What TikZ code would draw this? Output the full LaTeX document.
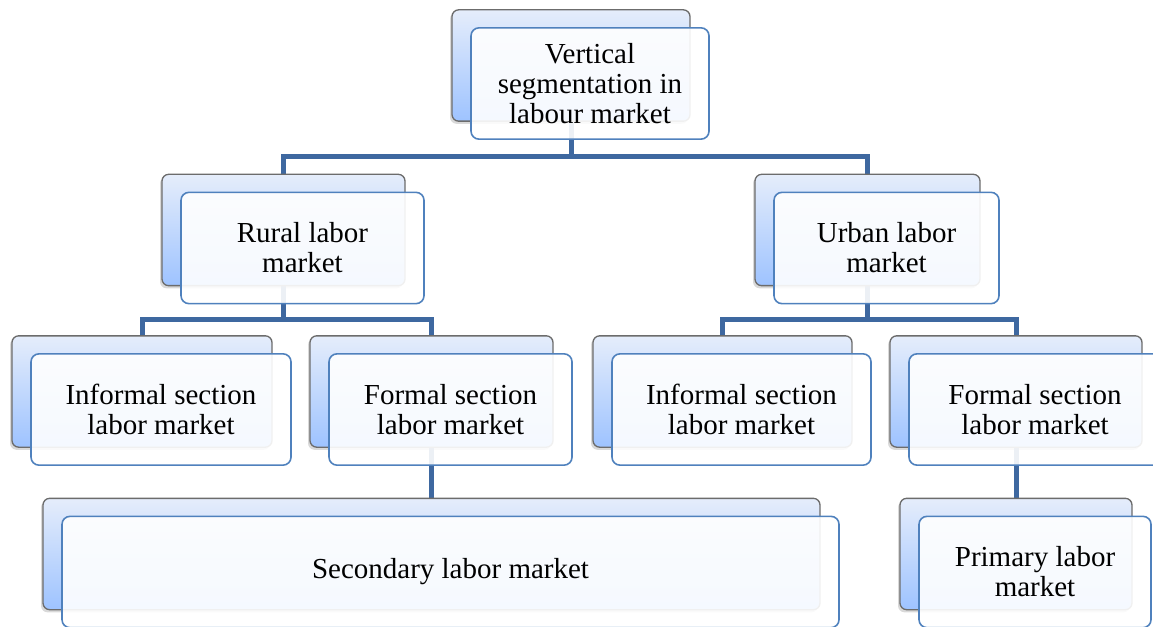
\documentclass[tikz,border=0pt]{standalone}
\usepackage{fontspec}
\setmainfont{Liberation Serif}
\usetikzlibrary{positioning,calc,shadows,backgrounds}
\definecolor{linkblue}{RGB}{62,104,160}
\definecolor{boxblue}{RGB}{79,129,189}
\definecolor{shadetop}{RGB}{229,237,251}
\definecolor{shadebot}{RGB}{158,195,255}

\begin{document}
\begin{tikzpicture}[x=0.75pt,y=-0.75pt,
  segback/.style={draw=gray!85!black, line width=1pt, rounded corners=5pt,
    top color=shadetop, bottom color=shadebot, minimum height=83.5pt, minimum width=#1,
    drop shadow={shadow xshift=-1.5pt,shadow yshift=-2pt,opacity=.3}},
  segfront/.style={draw=boxblue, line width=1.2pt, rounded corners=6pt, fill=white,
    fill opacity=.9, text opacity=1, minimum height=83.5pt, minimum width=#1,
    align=center, font=\fontsize{21.75}{22.5}\selectfont},
  link/.style={draw=linkblue, line width=3.75pt}]
\useasboundingbox (0,0) rectangle (1153,627);

% top
\node[segback=178.5pt] (top b) at (571,65.5) {};
\node[segfront=178.5pt] (top) at ([shift={(19,18)}]top b) {Vertical\\segmentation in\\labour market};

% second row
\node[segback=182.25pt] (rural b) at (283.5,230) {};
\node[segfront=182.25pt] (rural) at ([shift={(19,18)}]rural b) {Rural labor\\market};
\node[segback=168.75pt] (urban b) at (867.5,230) {};
\node[segfront=168.75pt] (urban) at ([shift={(19,18)}]urban b) {Urban labor\\market};

% third row
\node[segback=195pt] (inf1 b) at (142,391.5) {};
\node[segfront=195pt] (inf1) at ([shift={(19,18)}]inf1 b) {Informal section\\labor market};
\node[segback=182.25pt] (for1 b) at (431.5,391.5) {};
\node[segfront=182.25pt] (for1) at ([shift={(19,18)}]for1 b) {Formal section\\labor market};
\node[segback=194.25pt] (inf2 b) at (722.5,391.5) {};
\node[segfront=194.25pt] (inf2) at ([shift={(19,18)}]inf2 b) {Informal section\\labor market};
\node[segback=189pt] (for2 b) at (1016,391.5) {};
\node[segfront=189pt] (for2) at ([shift={(19,18)}]for2 b) {Formal section\\labor market};

% bottom row
\node[segback=582.75pt] (sec b) at (431.5,554) {};
\node[segfront=582.75pt] (sec) at ([shift={(19,18)}]sec b) {Secondary labor market};
\node[segback=174pt] (prim b) at (1016,554) {};
\node[segfront=174pt] (prim) at ([shift={(19,18)}]prim b) {Primary labor\\market};

\begin{scope}[on background layer]
\coordinate (j1) at ($(top.south)!.5!(rural b.north)$);
\coordinate (j2) at ($(rural.south)!.5!(inf1 b.north)$);
\coordinate (j3) at ($(urban.south)!.5!(inf2 b.north)$);
\draw[link] (top b) -- (top b |- j1);
\draw[link] (rural b.north) |- (top b |- j1) -| (urban b.north);
\draw[link] (rural b) -- (rural b |- j2);
\draw[link] (inf1 b.north) |- (rural b |- j2) -| (for1 b.north);
\draw[link] (urban b) -- (urban b |- j3);
\draw[link] (inf2 b.north) |- (urban b |- j3) -| (for2 b.north);
\draw[link] (for1 b) -- (sec b);
\draw[link] (for2 b) -- (prim b);
\end{scope}
\end{tikzpicture}
\end{document}
